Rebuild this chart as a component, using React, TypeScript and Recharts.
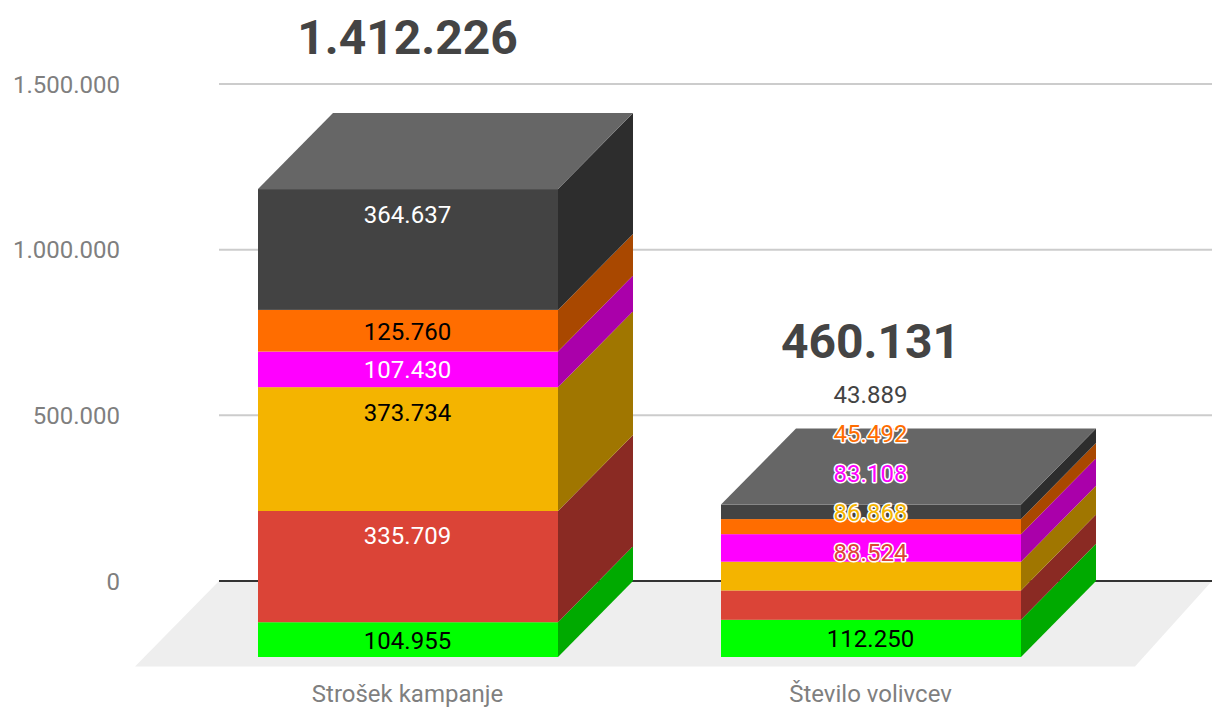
import {
  CartesianGrid,
  Bar,
  ComposedChart,
  LabelList,
  Line,
  ReferenceArea,
  XAxis,
  YAxis,
} from "recharts";

const CATEGORIES = ["Strošek kampanje", "Število volivcev"];
const GREEN_VALUES = [104955, 112250];
const RED_VALUES = [335709, 88524];
const AMBER_VALUES = [373734, 86868];
const MAGENTA_VALUES = [107430, 83108];
const ORANGE_VALUES = [125760, 45492];
const GREY_VALUES = [364637, 43889];
const TOTALS = [1412226, 460131];
const Y_TICKS = [0, 500000, 1000000, 1500000];

const SERIES = [
  { key: "green", values: GREEN_VALUES, front: "#00ff00", side: "#00aa00", inside: "#000000" },
  { key: "red", values: RED_VALUES, front: "#db4437", side: "#8a2a23", inside: "#ffffff" },
  { key: "amber", values: AMBER_VALUES, front: "#f4b400", side: "#a07600", inside: "#000000" },
  { key: "magenta", values: MAGENTA_VALUES, front: "#ff00ff", side: "#aa00aa", inside: "#ffffff" },
  { key: "orange", values: ORANGE_VALUES, front: "#ff6d00", side: "#a94800", inside: "#000000" },
  { key: "grey", values: GREY_VALUES, front: "#434343", side: "#2d2d2d", inside: "#ffffff" },
];

const chartData = CATEGORIES.map((name, i) => {
  const row: Record<string, string | number> = { name, total: TOTALS[i] };
  let top = 0;
  SERIES.forEach((s) => {
    row[s.key] = s.values[i];
    top += s.values[i];
    row[`${s.key}Top`] = top;
  });
  return row;
});

// the plot area is the back wall, bars are pushed forward from it by this much
const DEPTH_X = 75;
const DEPTH_Y = 76;
const PLOT_TOP = 84;
const PLOT_BOTTOM = 581;
const PAD_LEFT = 32;
const PAD_RIGHT = 35;
const PX_PER_UNIT = (PLOT_BOTTOM - PLOT_TOP) / 1500000;
const FONT = "Roboto, sans-serif";

const formatNumber = (value: number) => value.toLocaleString("de-DE");

// floor and zero line go together so both stay behind the columns
function Floor({ x, y, width, height }: any) {
  const back = y + height;
  const left = x - PAD_LEFT;
  const right = x + width + PAD_RIGHT;
  const points = [
    [left, back],
    [right, back],
    [right - 77, back + 85.5],
    [left - 84, back + 85.5],
  ];
  return (
    <g>
      <polygon points={points.map((p) => p.join(",")).join(" ")} fill="#eeeeee" />
      <line x1={left} y1={back} x2={right} y2={back} stroke="#333333" strokeWidth={2} />
    </g>
  );
}

function Block({ x, y, width, height, front, side, isTop }: any) {
  const left = x - DEPTH_X;
  const right = left + width;
  const top = y + DEPTH_Y;
  const bottom = top + height;
  return (
    <g>
      <polygon
        points={`${right},${top} ${x + width},${y} ${x + width},${y + height} ${right},${bottom}`}
        fill={side}
      />
      <rect x={left} y={top} width={width} height={height} fill={front} />
      {isTop && (
        <polygon
          points={`${left},${top} ${x},${y} ${x + width},${y} ${right},${top}`}
          fill="#666666"
        />
      )}
    </g>
  );
}

function XTick({ x, payload }: any) {
  return (
    <text
      x={x - DEPTH_X}
      y={693.5}
      textAnchor="middle"
      dominantBaseline="central"
      fontFamily={FONT}
      fontSize={24}
      fill="#7f7f7f"
    >
      {payload.value}
    </text>
  );
}

// tall segments hold the label near their top, short ones centre it, and
// ones too short for the text are stacked upwards above the column
function segmentLabel(seriesIndex: number) {
  const s = SERIES[seriesIndex];
  return ({ x, y, index }: any) => {
    const value = s.values[index];
    const h = value * PX_PER_UNIT;
    const top = y + DEPTH_Y;
    const fits = h >= 32;
    const cy = !fits ? 552.5 - 39.5 * (seriesIndex - 1) : h > 100 ? top + 25.5 : top + h / 2 + 1;
    return (
      <text
        x={x - DEPTH_X}
        y={cy}
        textAnchor="middle"
        dominantBaseline="central"
        fontFamily={FONT}
        fontSize={24}
        fill={fits ? s.inside : s.front}
        stroke={fits ? "none" : "#ffffff"}
        strokeWidth={fits ? 0 : 3}
        strokeLinejoin="round"
        paintOrder="stroke"
      >
        {formatNumber(value)}
      </text>
    );
  };
}

const TOTAL_GAPS = [76, 87];

function totalLabel({ x, y, index }: any) {
  return (
    <text
      x={x - DEPTH_X}
      y={y - TOTAL_GAPS[index]}
      textAnchor="middle"
      dominantBaseline="central"
      fontFamily={FONT}
      fontSize={48}
      fontWeight={700}
      fill="#444444"
    >
      {formatNumber(TOTALS[index])}
    </text>
  );
}

export default function App() {
  return (
    <div style={{ position: "absolute", left: 0, top: 0, width: 1212, height: 707, background: "#fff" }}>
      <ComposedChart
        width={1212}
        height={707}
        data={chartData}
        margin={{ top: PLOT_TOP, right: 0, bottom: 0, left: 0 }}
      >
        <CartesianGrid horizontal vertical={false} stroke="#cccccc" strokeWidth={2} />
        <XAxis
          dataKey="name"
          height={707 - PLOT_BOTTOM}
          axisLine={false}
          tickLine={false}
          padding={{ left: PAD_LEFT, right: PAD_RIGHT }}
          tick={<XTick />}
        />
        <YAxis
          width={219}
          domain={[0, 1500000]}
          ticks={Y_TICKS}
          axisLine={false}
          tickLine={false}
          tickMargin={93}
          tickFormatter={formatNumber}
          tick={{ fontFamily: FONT, fontSize: 24, fill: "#7f7f7f" }}
        />
        <ReferenceArea y1={0} y2={100000} shape={<Floor />} ifOverflow="visible" />
        {SERIES.map((s, i) => (
          <Bar
            key={s.key}
            dataKey={s.key}
            stackId="a"
            barSize={300}
            isAnimationActive={false}
            shape={<Block front={s.front} side={s.side} isTop={i === SERIES.length - 1} />}
          />
        ))}
        {SERIES.map((s, i) => (
          <Line
            key={`${s.key}Label`}
            dataKey={`${s.key}Top`}
            stroke="none"
            dot={false}
            activeDot={false}
            isAnimationActive={false}
          >
            <LabelList content={segmentLabel(i)} />
          </Line>
        ))}
        <Line dataKey="total" stroke="none" dot={false} activeDot={false} isAnimationActive={false}>
          <LabelList content={totalLabel} />
        </Line>
      </ComposedChart>
    </div>
  );
}
